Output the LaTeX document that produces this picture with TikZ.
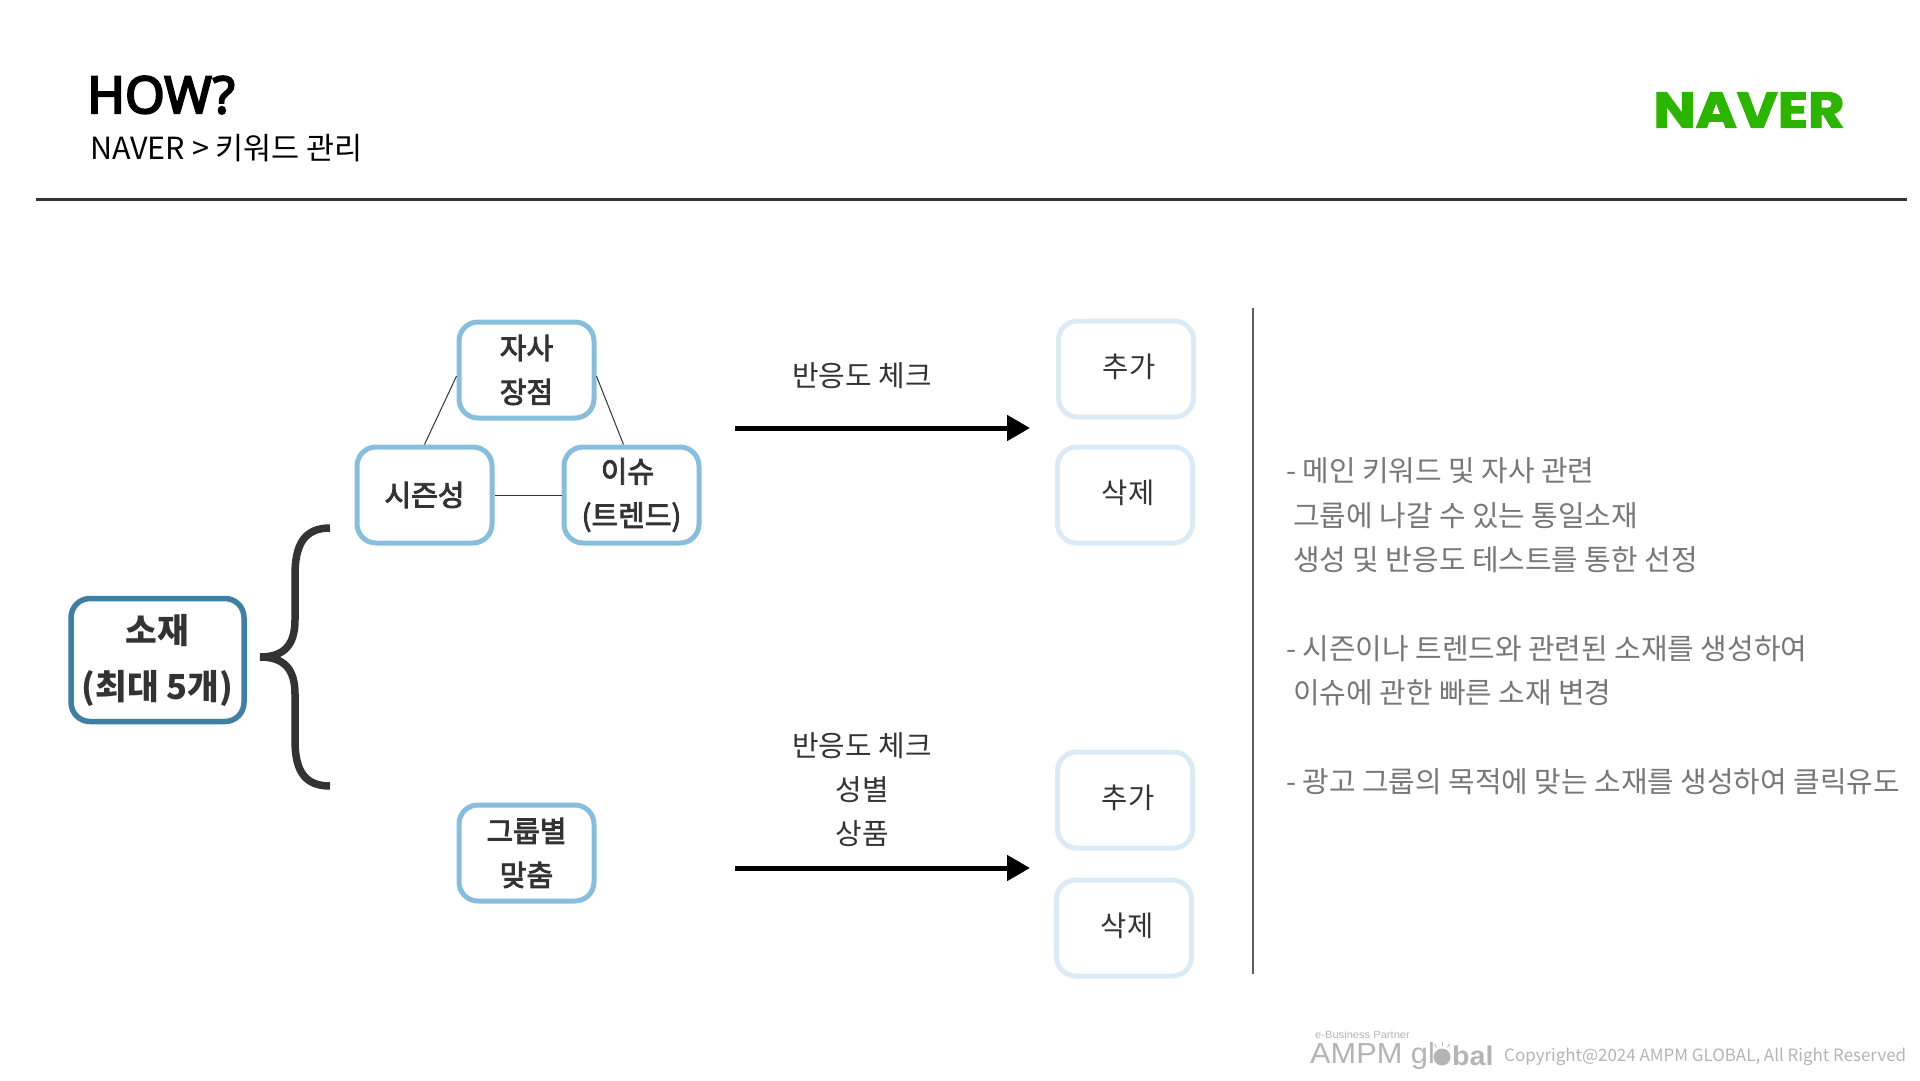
\documentclass[tikz,border=0pt]{standalone}
\usepackage{fontspec}
\usetikzlibrary{arrows.meta,positioning}
\setmainfont{Noto Sans CJK KR}
\newfontfamily\boxfont[FakeBold=3]{Noto Sans CJK KR}
\newfontfamily\titelfont[FakeBold=4]{Noto Sans}
\newfontfamily\logofont[FakeBold=2.5,FakeStretch=1.12]{Poppins}[BoldFont=* Bold]
\newfontfamily\ampmfont[FakeStretch=1.06]{Liberation Sans}
\definecolor{kastenhell}{HTML}{88BEDC}
\definecolor{kastendunkel}{HTML}{3F7FA3}
\definecolor{kastenblass}{HTML}{DBEBF6}
\definecolor{navergruen}{HTML}{2DB400}
\definecolor{schrift}{HTML}{333333}
\definecolor{grauschrift}{HTML}{777777}
\definecolor{fussgrau}{HTML}{B4B4B4}
\newcommand{\versatz}[1]{\raisebox{6pt}{\hspace{6pt}#1}}
\tikzset{
  kasten/.style={draw=kastenhell,line width=5pt,rounded corners=19pt,minimum width=135pt,minimum height=96pt,
    align=center,inner sep=0pt,text=schrift,font=\boxfont\fontsize{29}{44}\selectfont},
  blass/.style={kasten,draw=kastenblass,font=\fontsize{28.5}{44}\selectfont},
  beschrift/.style={inner sep=0pt,align=center,text=schrift,font=\fontsize{28.9}{44}\selectfont},
  zeile/.style={inner sep=0pt,anchor=west,text=grauschrift,font=\fontsize{28.9}{34}\selectfont},
  pfeil/.style={line width=5pt,-{Triangle[length=23pt,width=25pt]}},
  linie/.style={line width=1pt,draw=schrift},
}
\begin{document}
\begin{tikzpicture}[x=1pt,y=-1pt]
\useasboundingbox (0,0) rectangle (1920,1080);
%Kopf
\node[inner sep=0pt,anchor=west,font=\titelfont\bfseries\fontsize{51}{60}\selectfont] (titel) at (87,95) {HOW?};
\node[inner sep=0pt,anchor=west,font=\fontsize{30.5}{36}\selectfont] (untertitel) at (90,148) {NAVER > 키워드 관리};
\node[inner sep=0pt,text=navergruen,font=\logofont\bfseries\fontsize{50}{60}\selectfont] (logo) at (1749,110) {NAVER};
\coordinate (regelL) at (36,199);
\coordinate (regelR) at (1907,199);
\draw[line width=3pt,draw=schrift] (regelL) -- (regelR);
%Kaesten links
\node[kasten,draw=kastendunkel,line width=5.5pt,minimum width=173pt,minimum height=123pt,font=\bfseries\fontsize{34.5}{56}\selectfont] (sozae) at (157.5,660) {소재\\(최대 5개)};
\node[kasten] (jasa) at (526.5,370) {자사\\장점};
\node[kasten] (saison) at (424.5,495) {시즌성};
\node[kasten] (issue) at (631.5,495) {\mbox{이슈\hspace{8pt}}\\(트렌드)};
\node[kasten] (gruppe) at (526.5,853) {그룹별\\맞춤};
\draw[linie] (jasa.185) -- (saison.north);
\draw[linie] (jasa.-5) -- (issue.99);
\draw[linie] (saison.east) -- (issue.west);
%Klammer
\draw[line width=7.5pt,draw=schrift] (330,528) .. controls (304,528) and (295,545) .. (295,575) -- (295,620)
  .. controls (295,645) and (284,657) .. (260,657) .. controls (284,657) and (295,669) .. (295,694)
  -- (295,740) .. controls (295,770) and (304,786) .. (330,786);
%Pfeile
\coordinate (pfeilAstart) at (735,428);
\coordinate (pfeilAende) at (1030,428);
\coordinate (pfeilBstart) at (735,868);
\coordinate (pfeilBende) at (1030,868);
\draw[pfeil] (pfeilAstart) -- (pfeilAende);
\draw[pfeil] (pfeilBstart) -- (pfeilBende);
\node[beschrift] (checkA) at (862,376) {반응도 체크};
\node[beschrift] (checkB) at (862,790) {반응도 체크\\성별\\상품};
%Kaesten rechts
\node[blass] (plusA) at (1126,369) {\versatz{추가}};
\node[blass] (minusA) at (1125,495) {\versatz{삭제}};
\node[blass] (plusB) at (1125,800) {\versatz{추가}};
\node[blass] (minusB) at (1124,928) {\versatz{삭제}};
\coordinate (trennO) at (1253,308);
\coordinate (trennU) at (1253,974);
\draw[line width=1.5pt,draw=schrift!80] (trennO) -- (trennU);
%Text rechts
\node[zeile] (z1) at (1286,471) {- 메인 키워드 및 자사 관련};
\node[zeile] (z2) at (1293,516) {그룹에 나갈 수 있는 통일소재};
\node[zeile] (z3) at (1293,560) {생성 및 반응도 테스트를 통한 선정};
\node[zeile] (z4) at (1286,649) {- 시즌이나 트렌드와 관련된 소재를 생성하여};
\node[zeile] (z5) at (1293,693) {이슈에 관한 빠른 소재 변경};
\node[zeile] (z6) at (1286,782) {- 광고 그룹의 목적에 맞는 소재를 생성하여 클릭유도};
%Fuss
\node[inner sep=0pt,anchor=west,text=fussgrau,font=\ampmfont\fontsize{10.5}{13}\selectfont] (partner) at (1315,1035) {e-Business Partner};
\node[inner sep=0pt,anchor=west,text=fussgrau,font=\ampmfont\fontsize{29}{32}\selectfont] (ampm) at (1310,1056) {AMPM gl};
\fill[fussgrau] (1442,1057) circle (8.5pt);
\foreach \winkel in {60,90,120}{
\draw[fussgrau,line width=0.8pt] (1442,1057) ++(\winkel:11pt) -- ++(\winkel:4pt);
}
\node[inner sep=0pt,anchor=west,text=fussgrau,font=\ampmfont\bfseries\fontsize{27}{32}\selectfont] (bal) at (1452,1056) {bal};
\node[inner sep=0pt,anchor=west,text=fussgrau,font=\fontsize{16.95}{22}\selectfont] (copy) at (1504,1057) {Copyright@2024 AMPM GLOBAL, All Right Reserved};
\end{tikzpicture}
\end{document}
